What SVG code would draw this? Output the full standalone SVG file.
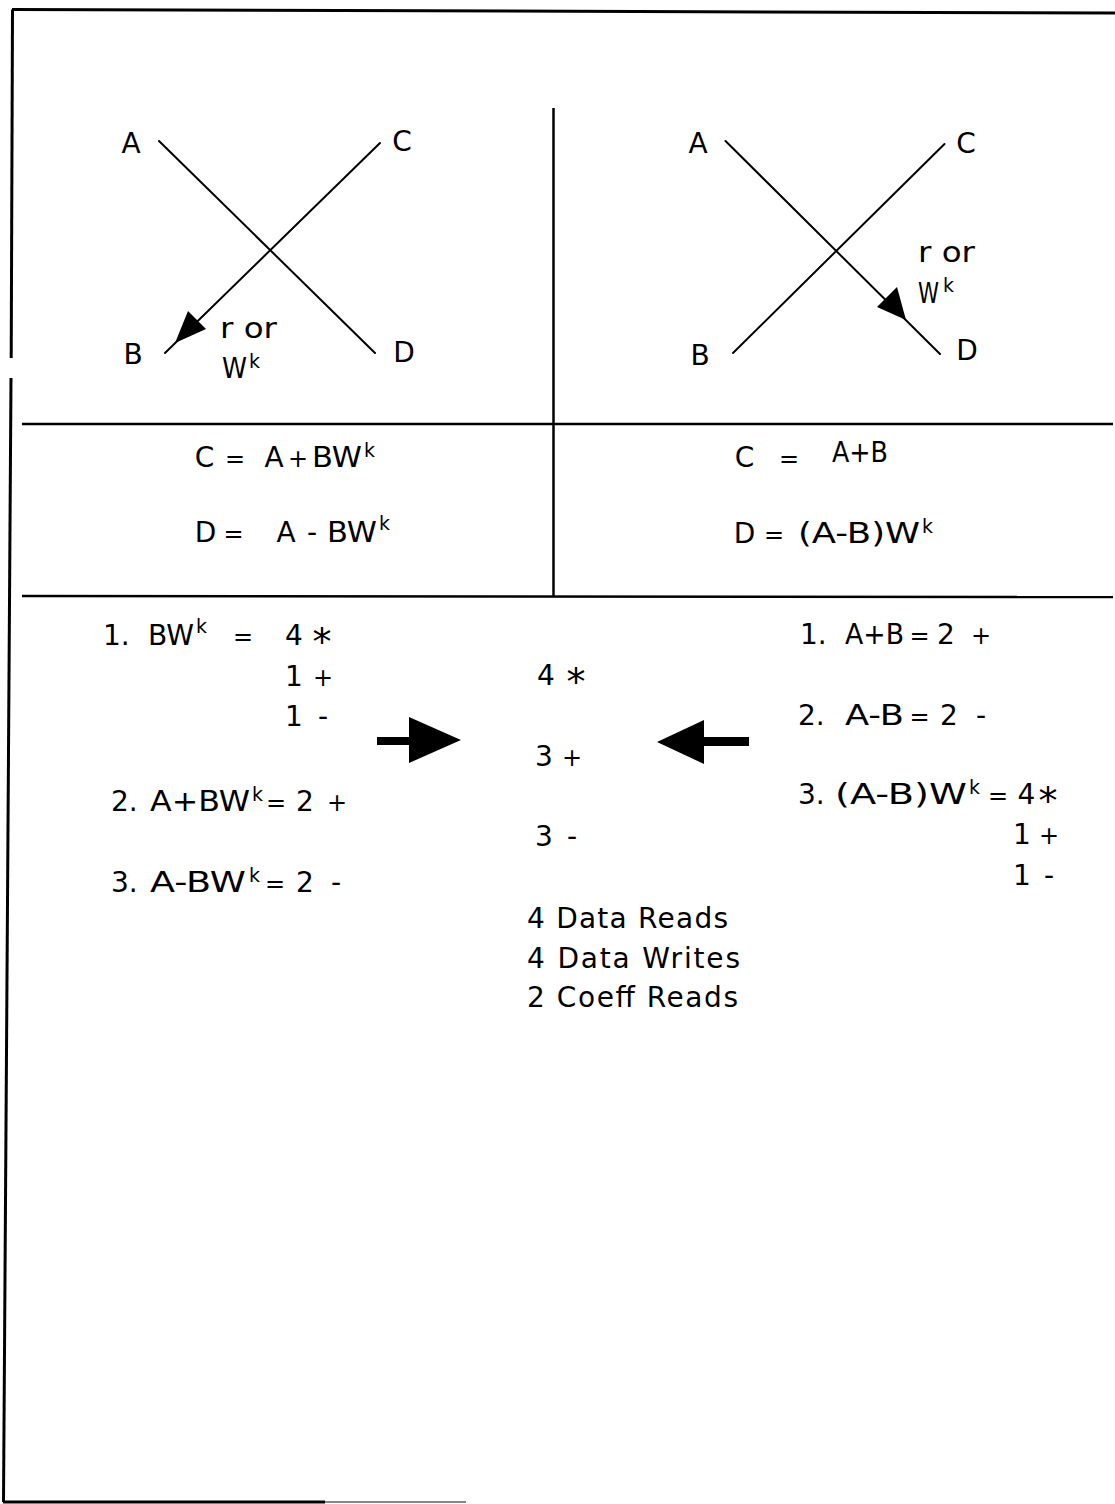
<svg xmlns="http://www.w3.org/2000/svg" width="1115" height="1504" viewBox="0 0 1115 1504">
<style>
  text { font-family: "DejaVu Sans", "Liberation Sans", sans-serif; font-size: 28px; fill: #000; }
  .m { text-anchor: middle; }
  .sup { font-size: 19px; }
  .ast { font-size: 38px; }
  .pl { font-size: 24px; }
  .eq { font-size: 24px; }
  .ln { stroke: #000; stroke-width: 2; fill: none; stroke-linecap: round; }
  .rule { stroke: #000; stroke-width: 2.5; fill: none; }
  .frame { stroke: #000; stroke-width: 3; fill: none; }
</style>
<rect width="1115" height="1504" fill="#fff"/>

<g id="frame">
  <line class="frame" x1="12" y1="9.5" x2="1115" y2="13"/>
  <line class="frame" x1="12.5" y1="9.5" x2="11.2" y2="358"/>
  <line class="frame" x1="11" y1="378" x2="3.5" y2="1502"/>
  <line class="frame" x1="3" y1="1502" x2="325" y2="1502"/>
  <line x1="325" y1="1502" x2="466" y2="1502" stroke="#888" stroke-width="2"/>
  <line class="rule" x1="553.5" y1="108" x2="553.5" y2="596"/>
  <line class="rule" x1="22" y1="424" x2="1113" y2="424"/>
  <line class="rule" x1="22" y1="596" x2="1113" y2="597"/>
</g>

<g id="butterfly-left">
  <line class="ln" x1="159" y1="141" x2="375" y2="353"/>
  <line class="ln" x1="165" y1="353" x2="380" y2="143"/>
  <polygon points="175,343 206,329 188,311" fill="#000"/>
  <text class="m" x="131" y="153">A</text>
  <text class="m" x="402" y="151">C</text>
  <text class="m" x="133" y="364">B</text>
  <text class="m" x="404" y="362">D</text>
  <text x="220" y="338" textLength="57" lengthAdjust="spacingAndGlyphs">r or</text>
  <text x="222" y="378" textLength="25" lengthAdjust="spacingAndGlyphs">W</text>
  <text class="sup" x="249" y="368">k</text>
</g>

<g id="butterfly-right">
  <line class="ln" x1="725.5" y1="141" x2="940" y2="354"/>
  <line class="ln" x1="733" y1="353" x2="944.5" y2="144"/>
  <polygon points="897,287 877,307 906,320" fill="#000"/>
  <text class="m" x="698" y="153">A</text>
  <text class="m" x="966" y="153">C</text>
  <text class="m" x="700" y="365">B</text>
  <text class="m" x="967" y="360">D</text>
  <text x="918" y="262" textLength="57" lengthAdjust="spacingAndGlyphs">r or</text>
  <text x="918" y="303" textLength="21" lengthAdjust="spacingAndGlyphs">W</text>
  <text class="sup" x="943" y="292">k</text>
</g>

<g id="equations-left">
  <text class="m" x="204.5" y="467">C</text>
  <text class="m eq" x="235" y="467">=</text>
  <text class="m" x="274" y="467">A</text>
  <text class="m pl" x="298" y="467">+</text>
  <text x="312" y="467" textLength="50" lengthAdjust="spacingAndGlyphs">BW</text>
  <text class="sup" x="364" y="457">k</text>
  <text class="m" x="205.5" y="542">D</text>
  <text class="m eq" x="233.5" y="542">=</text>
  <text class="m" x="286" y="542">A</text>
  <text class="m" x="312" y="542">-</text>
  <text x="327" y="542" textLength="50" lengthAdjust="spacingAndGlyphs">BW</text>
  <text class="sup" x="379" y="530">k</text>
</g>

<g id="equations-right">
  <text class="m" x="744.5" y="467">C</text>
  <text class="m eq" x="789" y="467">=</text>
  <text x="832" y="462" textLength="56" lengthAdjust="spacingAndGlyphs">A+B</text>
  <text class="m" x="744.5" y="543">D</text>
  <text class="m eq" x="774" y="543">=</text>
  <text x="798" y="543" textLength="122" lengthAdjust="spacingAndGlyphs">(A-B)W</text>
  <text class="sup" x="922" y="533">k</text>
</g>

<g id="ops-left">
  <text x="103" y="645">1.</text>
  <text x="148" y="645" textLength="46" lengthAdjust="spacingAndGlyphs">BW</text>
  <text class="sup" x="196" y="633">k</text>
  <text class="m eq" x="243" y="645">=</text>
  <text class="m" x="294" y="645">4</text>
  <text class="m ast" x="322" y="655">*</text>
  <text class="m" x="294" y="686">1</text>
  <text class="m pl" x="323" y="686">+</text>
  <text class="m" x="294" y="726">1</text>
  <text class="m" x="323" y="726">-</text>

  <text x="111" y="811">2.</text>
  <text x="150" y="811" textLength="100" lengthAdjust="spacingAndGlyphs">A+BW</text>
  <text class="sup" x="252" y="801">k</text>
  <text class="m eq" x="276" y="811">=</text>
  <text class="m" x="305" y="811">2</text>
  <text class="m pl" x="337" y="811">+</text>

  <text x="111" y="892">3.</text>
  <text x="150" y="892" textLength="96" lengthAdjust="spacingAndGlyphs">A-BW</text>
  <text class="sup" x="249" y="882">k</text>
  <text class="m eq" x="275" y="892">=</text>
  <text class="m" x="305" y="892">2</text>
  <text class="m" x="336" y="892">-</text>
</g>

<g id="ops-total">
  <text class="m" x="546" y="685">4</text>
  <text class="m ast" x="576" y="695">*</text>
  <text class="m" x="544" y="766">3</text>
  <text class="m pl" x="572" y="766">+</text>
  <text class="m" x="544" y="846">3</text>
  <text class="m" x="572" y="846">-</text>
  <text x="527" y="928" textLength="201">4 Data Reads</text>
  <text x="527" y="968" textLength="213">4 Data Writes</text>
  <text x="527" y="1007" textLength="211">2 Coeff Reads</text>
</g>

<g id="ops-right">
  <text x="800" y="644">1.</text>
  <text x="845" y="644" textLength="59" lengthAdjust="spacingAndGlyphs">A+B</text>
  <text class="m eq" x="919.5" y="644">=</text>
  <text class="m" x="946" y="644">2</text>
  <text class="m pl" x="981" y="644">+</text>

  <text x="798" y="725">2.</text>
  <text x="845" y="725" textLength="59" lengthAdjust="spacingAndGlyphs">A-B</text>
  <text class="m eq" x="919.5" y="725">=</text>
  <text class="m" x="949" y="725">2</text>
  <text class="m" x="981" y="725">-</text>

  <text x="798" y="804">3.</text>
  <text x="835" y="804" textLength="132" lengthAdjust="spacingAndGlyphs">(A-B)W</text>
  <text class="sup" x="969" y="794">k</text>
  <text class="m eq" x="998" y="804">=</text>
  <text class="m" x="1026.5" y="804">4</text>
  <text class="m ast" x="1048" y="814">*</text>
  <text class="m" x="1022" y="844">1</text>
  <text class="m pl" x="1049" y="844">+</text>
  <text class="m" x="1022" y="885">1</text>
  <text class="m" x="1049" y="885">-</text>
</g>

<g id="connectors">
  <rect x="377" y="737" width="34" height="8" fill="#000"/>
  <polygon points="409,717 409,763 461,740" fill="#000"/>
  <rect x="702" y="737" width="47" height="9" fill="#000"/>
  <polygon points="657,742 704,720 704,764" fill="#000"/>
</g>
</svg>
